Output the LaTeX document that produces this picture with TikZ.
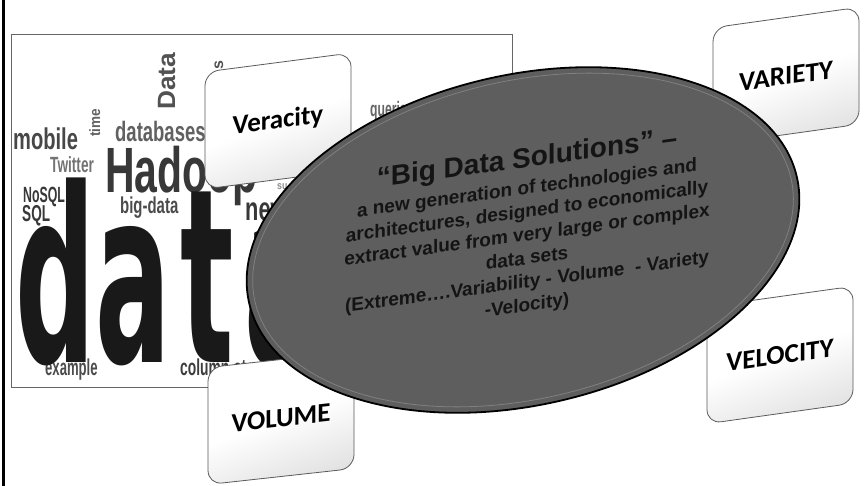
\documentclass[tikz,border=0pt]{standalone}
\usepackage{fontspec}
\usepackage{graphicx}
\usetikzlibrary{shapes.geometric}
\setmainfont{Liberation Sans}
\newfontfamily\cloudfont{Liberation Sans}
\newfontfamily\datafont{DejaVu Sans}
\newfontfamily\boxfont{Carlito}
\definecolor{discgray}{RGB}{94,94,94}
\definecolor{boxline}{RGB}{90,90,90}
\definecolor{boxshade}{RGB}{226,226,226}
\newcommand{\cword}[3]{\scalebox{#2}[1]{\fontsize{#1}{#1}\selectfont #3}}

\begin{document}
\begin{tikzpicture}[x=1pt, y=-1pt,
    cloudword/.style={anchor=base west, inner sep=0pt, font=\cloudfont\bfseries},
    vbox/.style={draw=boxline, line width=0.8pt, rounded corners=14pt, top color=white, bottom color=boxshade, middle color=white, shading angle=20, minimum width=146pt, minimum height=117pt, font=\boxfont\bfseries\fontsize{27}{30}\selectfont},
    disc/.style={ellipse, draw=black, line width=1.8pt, fill=discgray, minimum width=562pt, minimum height=330pt, inner sep=0pt}]
        \fill[white] (0,0) rectangle (866,486);
        \useasboundingbox (0,0) rectangle (866,486);
        \draw[line width=3pt] (3.5,0) -- (3.5,486);

        % Word cloud
        \draw[black!60, line width=0.8pt, fill=white] (11,34) rectangle (512,387);
        \foreach \nm/\x/\y/\sz/\st/\col/\txt in {
            mobile/13/150/30/.67/black!72/mobile,
            databases/115/142/28/.66/black!62/databases,
            twitter/50/173/22/.62/black!55/Twitter,
            nosql/23/203/22/.56/black!78/NoSQL,
            sql/22/222/23/.59/black!78/SQL,
            bigdata/120/214/23/.65/black!70/big-data,
            example/45/375/23/.57/black!70/example,
            columnstore/180/375/23/.6/black!76/column-store,
            queries/370/117/21/.58/black!60/queries,
            su/277/190/11/.8/black!45/su} {
            \node[cloudword, text=\col] (\nm) at (\x,\y) {\cword{\sz}{\st}{\txt}};
        }
        \node[cloudword, text=black!78] (hadoop) at (105,193) {\cword{64}{.64}{Hadoop}};
        \node[cloudword, text=black!78] (new) at (245,220) {\cword{33}{.66}{new}};
        \node[cloudword, rotate=90, text=black!62] (time) at (100,137) {\cword{15}{.9}{time}};
        \node[cloudword, rotate=90, text=black!68] (datavert) at (175,110) {\cword{25}{1.05}{Data}};
        \node[cloudword, rotate=90, text=black!68] (s) at (223,70) {\cword{16}{1}{s}};
        \node[cloudword, text=black!90] (data) at (15,362) {\scalebox{.46}[1]{\fontsize{243}{243}\selectfont\datafont\bfseries da\makebox[.66em]{t}a}};

        % V boxes
        \foreach \nm/\x/\y/\sl/\txt in {veracity/278/121/.13/Veracity, volume/281/418/.11/VOLUME, variety/786/76/.14/VARIETY, velocity/780/355/.14/VELOCITY} {
            \node[vbox, yslant=\sl] (\nm) at (\x,\y) {\txt};
        }

        % Central disc
        \node[disc, rotate=13] (disc) at (523,240) {};
        \node[ellipse, draw=black!50, line width=0.8pt, minimum width=550pt, minimum height=318pt, rotate=13] (discrim) at (disc.center) {};
        \node[yslant=.135, align=center, text=black!92, font=\cloudfont\bfseries\fontsize{19}{23.4}\selectfont] (disctext) at (527,231) {{\fontsize{28}{30}\selectfont “Big Data Solutions” –}\\[3.6pt]
            a new generation of technologies and\\
            architectures, designed to economically\\
            extract value from very large or complex\\
            data sets\\
            (Extreme….Variability - Volume~ - Variety\\
            -Velocity)};
    \end{tikzpicture}
\end{document}
